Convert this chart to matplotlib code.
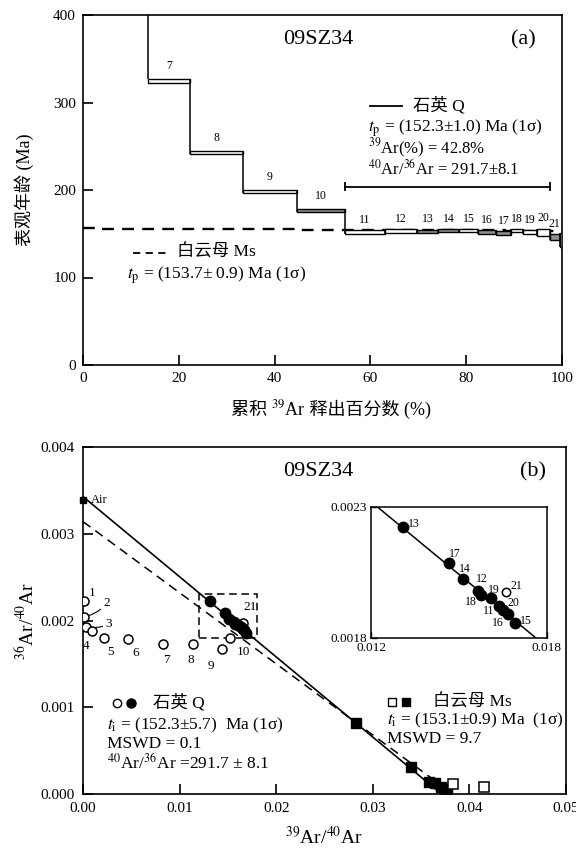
import matplotlib
matplotlib.use('Agg')
import matplotlib.pyplot as plt
from matplotlib.patches import Rectangle
from matplotlib.offsetbox import TextArea, HPacker, AnnotationBbox

plt.rcParams['font.family'] = ['Liberation Serif', 'Noto Sans CJK SC']
plt.rcParams['mathtext.fontset'] = 'stix'
plt.rcParams['axes.linewidth'] = 1.2

# ---------------- Panel (a) data : age spectrum ----------------
q_labels = ['7', '8', '9', '10', '11', '12', '13', '14', '15', '16', '17', '18', '19', '20', '21', '']
q_edges = [13.6, 22.3, 33.3, 44.6, 54.6, 63.0, 69.7, 74.2, 78.5, 82.5, 86.3, 89.4, 91.9, 94.7, 97.4, 99.6, 100.0]
q_age = [324.5, 242.7, 198.5, 176.4, 152.0, 153.1, 152.6, 153.4, 153.8, 152.2, 150.6, 154.0, 152.2, 152.0, 146.3, 143.0]
q_err = [2.5, 1.9, 1.5, 1.5, 2.5, 2.0, 2.2, 1.8, 2.0, 2.0, 2.4, 1.8, 2.2, 4.0, 3.4, 8.0]
q_grey = [False, False, False, True, False, False, True, True, False, True, True, False, False, False, True, True]

ms_edges = [0, 3, 12, 28, 45, 60, 75, 88, 97, 100]
ms_age = [156.8, 155.6, 155.2, 155.0, 154.6, 154.3, 154.0, 153.6, 152.8]

plateau_range = [54.6, 97.4]
plateau_y = 204

# ---------------- Panel (b) data : inverse isochron ----------------
open_labels = ['1', '2', '3', '4', '5', '6', '7', '8', '9', '10', '21']
open_x = [0.0001, 0.0001, 0.0003, 0.0009, 0.00217, 0.00462, 0.00832, 0.01142, 0.01436, 0.01522, 0.01660]
open_y = [0.002225, 0.002044, 0.00193, 0.00188, 0.00180, 0.001787, 0.001726, 0.001726, 0.001668, 0.001795, 0.001976]

fill_labels = ['13', '17', '14', '12', '18', '19', '11', '20', '16', '15']
fill_x = [0.01310, 0.014676, 0.015154, 0.015666, 0.015757, 0.016087, 0.016372, 0.016520, 0.016691, 0.016918]
fill_y = [0.002221, 0.002084, 0.002023, 0.001979, 0.001963, 0.001950, 0.001922, 0.001906, 0.001890, 0.001857]

ms_fill_x = [0.02826, 0.03395, 0.03580, 0.03640, 0.03705, 0.03755, 0.03770]
ms_fill_y = [0.000815, 0.000315, 0.000142, 0.000125, 0.000085, 0.000058, 0.000015]
ms_open_x = [0.03833, 0.04151]
ms_open_y = [0.000112, 0.000085]

air_x, air_y = 0.0, 1 / 295.5
q_iso = (1 / 291.7, 0.0371)    # y-intercept, x-intercept
ms_iso = (0.00314, 0.0383)

fig = plt.figure(figsize=(5.76, 8.5), dpi=100)


def rich_label(pieces, xy, fontsize):
    boxes = [TextArea(s, textprops=dict(fontsize=fontsize, family=fam)) for s, fam in pieces]
    pack = HPacker(children=boxes, align='baseline', pad=0, sep=0)
    ab = AnnotationBbox(pack, xy, xycoords='figure fraction', frameon=False,
                        box_alignment=(0.5, 0.5), pad=0)
    fig.add_artist(ab)


# ================= Panel (a) =================
ax = fig.add_axes([83 / 576, 1 - 365 / 850, 479 / 576, 350 / 850])
ax.set_xlim(0, 100)
ax.set_ylim(0, 400)

ax.step(ms_edges, ms_age + [ms_age[-1]], where='post', color='black',
        lw=1.7, dashes=(5, 3.5), zorder=2)

for i in range(len(q_age)):
    x0, x1 = q_edges[i], q_edges[i + 1]
    lo, hi = q_age[i] - q_err[i], q_age[i] + q_err[i]
    ax.add_patch(Rectangle((x0, lo), x1 - x0, hi - lo,
                           fc='#8f8f8f' if q_grey[i] else 'white',
                           ec='black', lw=1.0, zorder=3))
    if i + 1 < len(q_age):
        lo2, hi2 = q_age[i + 1] - q_err[i + 1], q_age[i + 1] + q_err[i + 1]
        ax.vlines(x1, min(lo, lo2), max(hi, hi2), color='black', lw=1.1, zorder=4)
    if q_labels[i]:
        off = 5 if i < 4 else 3
        ax.annotate(q_labels[i], ((x0 + x1) / 2, hi), xytext=(0, off),
                    textcoords='offset points', ha='center', va='bottom', fontsize=8.5)
ax.vlines(q_edges[0], q_age[0] + q_err[0], 400, color='black', lw=1.1, zorder=4)

ax.plot(plateau_range, [plateau_y, plateau_y], color='black', lw=1.3)
ax.vlines(plateau_range, plateau_y - 5, plateau_y + 5, color='black', lw=1.3)

ax.text(49.1, 372, '09SZ34', ha='center', va='center', fontsize=16)
ax.text(91.9, 372, '(a)', ha='center', va='center', fontsize=16)

ax.plot([59.9, 66.5], [296, 296], color='black', lw=1.3)
ax.text(68.9, 296, '石英 Q', ha='left', va='center', fontsize=12.5)
ax.text(59.5, 271, r'$t_{\mathrm{p}}$ = (152.3±1.0) Ma (1σ)', ha='left', va='center', fontsize=12.5)
ax.text(59.5, 247, r'$^{39}$Ar(%) = 42.8%', ha='left', va='center', fontsize=12)
ax.text(59.5, 224.5, r'$^{40}$Ar/$^{36}$Ar = 291.7±8.1', ha='left', va='center', fontsize=12)

ax.plot([10.4, 17.5], [128.3, 128.3], color='black', lw=1.3, dashes=(4, 3))
ax.text(19.6, 128.3, '白云母 Ms', ha='left', va='center', fontsize=12.5)
ax.text(9.2, 102.9, r'$t_{\mathrm{p}}$ = (153.7± 0.9) Ma (1σ)', ha='left', va='center', fontsize=12.5)

ax.set_xticks([0, 20, 40, 60, 80, 100])
ax.set_yticks([0, 100, 200, 300, 400])
ax.tick_params(direction='in', length=7, width=1.2, labelsize=11, top=False, right=False, pad=5)
ax.set_ylabel('表观年龄 (Ma)', fontsize=13, labelpad=14)

rich_label([('累积 ', ['Noto Sans CJK SC']),
            (r'$^{39}$Ar', ['Liberation Serif']),
            (' 释出百分数 (%)', ['Liberation Serif', 'Noto Sans CJK SC'])],
           (331 / 576, 1 - 409 / 850), 13)

# ================= Panel (b) =================
bx = fig.add_axes([83 / 576, 1 - 794 / 850, 483 / 576, 347 / 850])
bx.set_xlim(0, 0.05)
bx.set_ylim(0, 0.004)

bx.plot([0, q_iso[1]], [q_iso[0], 0], color='black', lw=1.2, zorder=2)
bx.plot([0, ms_iso[1]], [ms_iso[0], 0], color='black', lw=1.1, dashes=(6, 4), zorder=2)

bx.plot([air_x], [air_y], marker='s', ms=4, color='black', clip_on=False, zorder=5)
bx.annotate('Air', (air_x, air_y), xytext=(6, 0), textcoords='offset points',
            ha='left', va='center', fontsize=9)

bx.add_patch(Rectangle((0.012, 0.0018), 0.006, 0.0005, fill=False, ec='black',
                       lw=1.1, ls=(0, (5, 3)), zorder=2))

bx.plot(open_x, open_y, 'o', ms=6.5, mfc='white', mec='black', mew=1.1, ls='none', zorder=4)
bx.plot(fill_x, fill_y, 'o', ms=7.5, color='black', ls='none', zorder=4)
bx.plot(ms_fill_x, ms_fill_y, 's', ms=7, color='black', ls='none', zorder=4)
bx.plot(ms_open_x, ms_open_y, 's', ms=7, mfc='white', mec='black', mew=1.1, ls='none', zorder=4)

open_offsets = [(6, 6), (14, 10), (14, 2), (-4, -11), (5, -10), (6, -10), (2, -11),
                (-2, -11), (-8, -12), (10, -10), (5, 11)]
for lab, x, y, off in zip(open_labels, open_x, open_y, open_offsets):
    if lab in ('2', '3'):
        bx.annotate(lab, (x, y), xytext=off, textcoords='offset points', ha='left',
                    va='center', fontsize=9.5,
                    arrowprops=dict(arrowstyle='-', color='black', lw=0.8,
                                    connectionstyle='arc3,rad=-0.2', shrinkA=0, shrinkB=3))
    else:
        bx.annotate(lab, (x, y), xytext=off, textcoords='offset points', ha='center',
                    va='center', fontsize=9.5)

bx.text(0.02433, 0.003723, '09SZ34', ha='center', va='center', fontsize=16)
bx.text(0.04658, 0.003712, '(b)', ha='center', va='center', fontsize=16)

bx.plot([0.00352], [0.00105], 'o', ms=6, mfc='white', mec='black', mew=1.0)
bx.plot([0.00497], [0.00105], 'o', ms=6.5, color='black')
bx.text(0.00725, 0.00105, '石英 Q', ha='left', va='center', fontsize=12.5)
bx.text(0.00248, 0.000795, r'$t_{\mathrm{i}}$ = (152.3±5.7)  Ma (1σ)', ha='left', va='center', fontsize=12.5)
bx.text(0.00248, 0.000576, 'MSWD = 0.1', ha='left', va='center', fontsize=12.5)
bx.text(0.00248, 0.000357, r'$^{40}$Ar/$^{36}$Ar =291.7 ± 8.1', ha='left', va='center', fontsize=12.5)

bx.plot([0.0320], [0.00106], 's', ms=6, mfc='white', mec='black', mew=1.0)
bx.plot([0.0334], [0.00106], 's', ms=6, color='black')
bx.text(0.03623, 0.00106, '白云母 Ms', ha='left', va='center', fontsize=12.5)
bx.text(0.03147, 0.000853, r'$t_{\mathrm{i}}$ = (153.1±0.9) Ma  (1σ)', ha='left', va='center', fontsize=12.5)
bx.text(0.03147, 0.000634, 'MSWD = 9.7', ha='left', va='center', fontsize=12.5)

bx.set_xticks([0, 0.01, 0.02, 0.03, 0.04, 0.05])
bx.set_xticklabels(['0.00', '0.01', '0.02', '0.03', '0.04', '0.05'])
bx.set_yticks([0, 0.001, 0.002, 0.003, 0.004])
bx.set_yticklabels(['0.000', '0.001', '0.002', '0.003', '0.004'])
bx.tick_params(direction='in', length=7, width=1.2, labelsize=11, top=False, right=False, pad=6)
bx.set_xlabel(r'$^{39}$Ar/$^{40}$Ar', fontsize=14, labelpad=8)
bx.set_ylabel(r'$^{36}$Ar/$^{40}$Ar', fontsize=14, labelpad=2)

# ---------------- inset ----------------
ix = fig.add_axes([371 / 576, 1 - 637.7 / 850, 175.7 / 576, 131 / 850])
ix.set_xlim(0.012, 0.018)
ix.set_ylim(0.0018, 0.0023)
ix.plot([0.012, 0.018], [q_iso[0] * (1 - 0.012 / q_iso[1]), q_iso[0] * (1 - 0.018 / q_iso[1])],
        color='black', lw=1.1)
ix.plot(fill_x, fill_y, 'o', ms=7.5, color='black', ls='none', zorder=4)
ix.plot([open_x[-1]], [open_y[-1]], 'o', ms=6, mfc='white', mec='black', mew=1.1, zorder=4)
inset_offsets = [(7.8, 2.4), (4, 7), (1.2, 7.5), (2.4, 8.2), (-7, -5), (2.4, 6),
                 (-7.8, -4), (7.6, 4.8), (-7.4, -6.2), (7.8, 1.5)]
for lab, x, y, off in zip(fill_labels, fill_x, fill_y, inset_offsets):
    ix.annotate(lab, (x, y), xytext=off, textcoords='offset points', ha='center',
                va='center', fontsize=8.5)
ix.annotate('21', (open_x[-1], open_y[-1]), xytext=(8, 4), textcoords='offset points',
            ha='center', va='center', fontsize=8.5)
ix.set_xticks([0.012, 0.018])
ix.set_xticklabels(['0.012', '0.018'])
ix.set_yticks([0.0018, 0.0023])
ix.set_yticklabels(['0.0018', '0.0023'])
ix.tick_params(direction='in', length=4, width=1.0, labelsize=9.5, pad=3)
for s in ix.spines.values():
    s.set_linewidth(1.1)

fig.savefig('out.png', dpi=100)
